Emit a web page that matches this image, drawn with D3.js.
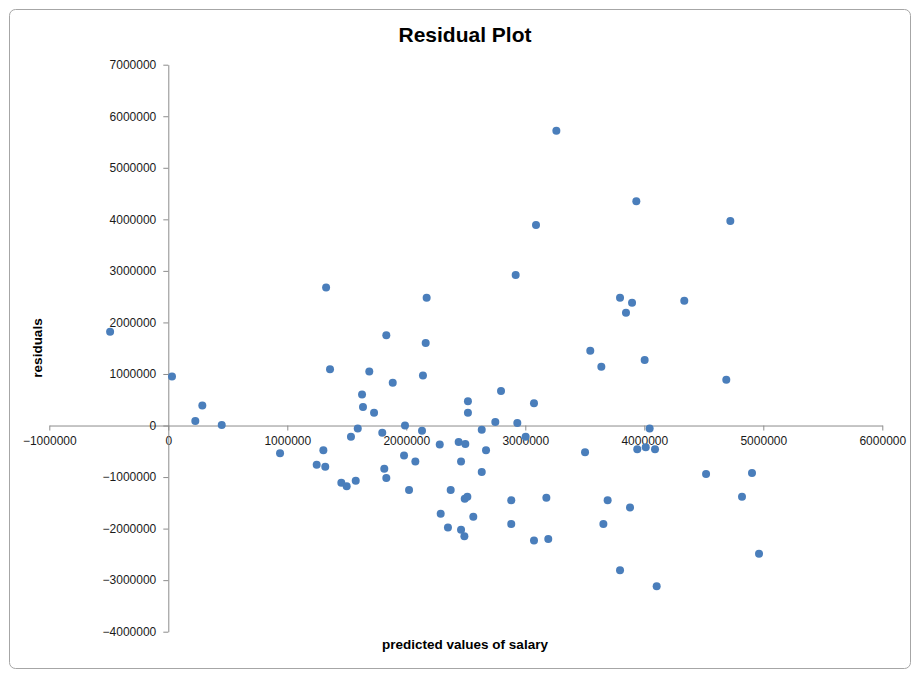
<!DOCTYPE html>
<html>
<head>
<meta charset="utf-8">
<script src="https://cdn.jsdelivr.net/npm/d3@7"></script>
<style>
  body { margin: 0; background: #fff; }
  text { font-family: "Liberation Sans", Arial, sans-serif; }
</style>
</head>
<body>
<div id="chart"></div>
<script>
// predicted values (x) and residuals (y)
var predicted = [
  -489000, 31000, 227000, 286000, 449000,
  1326000, 2171000, 1832000, 2163000, 1359000, 1689000, 2140000, 1886000,
  1628000, 1636000, 1729000, 2518000, 2518000, 1592000, 1989000, 1535000,
  1798000, 2132000, 2281000, 2440000, 2496000, 939000, 1303000, 1247000,
  1319000, 1981000, 2076000, 2460000, 1815000, 1832000, 1454000, 1499000,
  1575000, 2023000, 2373000, 2491000, 2513000, 2289000, 2350000, 2460000, 2488000,
  2748000, 2933000, 2634000, 3003000, 2670000, 2634000, 3502000, 4045000,
  3941000, 4012000, 4090000, 2882000, 3177000, 3692000, 3880000, 2563000,
  2882000, 3656000, 3073000, 3193000, 3796000, 4104000, 3796000, 3897000,
  3846000, 3546000, 3639000, 4003000, 2796000, 3073000, 3261000, 3933000,
  3090000, 2919000, 4723000, 4336000, 4689000, 4519000, 4905000, 4821000, 4964000
];
var residuals = [
  1820000, 950000, 90000, 390000, 10000,
  2680000, 2480000, 1750000, 1600000, 1090000, 1050000, 970000, 830000,
  600000, 360000, 250000, 470000, 250000, -60000, 0, -220000,
  -140000, -100000, -370000, -320000, -360000, -540000, -480000, -760000,
  -800000, -580000, -700000, -700000, -840000, -1020000, -1110000, -1180000,
  -1070000, -1250000, -1250000, -1420000, -1380000, -1710000, -1980000, -2020000, -2150000,
  70000, 50000, -80000, -220000, -480000, -900000, -520000, -60000,
  -460000, -420000, -460000, -1450000, -1400000, -1450000, -1590000, -1770000,
  -1910000, -1910000, -2230000, -2200000, -2810000, -3120000, 2480000, 2380000,
  2190000, 1450000, 1140000, 1270000, 670000, 430000, 5720000, 4350000,
  3890000, 2920000, 3970000, 2420000, 890000, -940000, -920000, -1380000, -2490000
];
var xTicks = [-1000000, 0, 1000000, 2000000, 3000000, 4000000, 5000000, 6000000];
var yTicks = [-4000000, -3000000, -2000000, -1000000, 0, 1000000, 2000000, 3000000,
              4000000, 5000000, 6000000, 7000000];

var width = 912, height = 673;

var svg = d3.select("#chart")
  .append("svg")
  .attr("width", width)
  .attr("height", height);

// chart frame
svg.append("rect")
  .attr("x", 9.5).attr("y", 9.5)
  .attr("width", 901).attr("height", 659)
  .attr("rx", 6)
  .attr("fill", "#fff")
  .attr("stroke", "#a6a6a6");

var x = d3.scaleLinear()
  .domain([-1000000, 6000000])
  .range([49.3, 882.3]);

var y = d3.scaleLinear()
  .domain([-4000000, 7000000])
  .range([631.7, 64.7]);

// x axis crosses at y = 0
var xAxis = svg.append("g")
  .attr("transform", "translate(0," + y(0) + ")")
  .call(d3.axisBottom(x).tickValues(xTicks).tickFormat(d3.format("d"))
    .tickSizeInner(5).tickSizeOuter(0).tickPadding(6));

// y axis crosses at x = 0
var yAxis = svg.append("g")
  .attr("transform", "translate(" + x(0) + ",0)")
  .call(d3.axisLeft(y).tickValues(yTicks).tickFormat(d3.format("d"))
    .tickSizeInner(5).tickSizeOuter(0).tickPadding(7));

svg.selectAll(".domain, .tick line").attr("stroke", "#8c8c8c");
svg.selectAll(".tick text")
  .attr("fill", "#1a1a1a")
  .style("font-size", "12px");

// points
svg.selectAll("circle.pt")
  .data(predicted)
  .enter()
  .append("circle")
  .attr("class", "pt")
  .attr("cx", function(d) { return x(d); })
  .attr("cy", function(d, i) { return y(residuals[i]); })
  .attr("r", 4)
  .attr("fill", "#4a7ebb");

// title and axis titles
svg.append("text")
  .attr("x", 465).attr("y", 42)
  .attr("text-anchor", "middle")
  .style("font-size", "21px")
  .style("font-weight", "bold")
  .text("Residual Plot");

svg.append("text")
  .attr("x", 465).attr("y", 649)
  .attr("text-anchor", "middle")
  .style("font-size", "13.5px")
  .style("font-weight", "bold")
  .text("predicted values of salary");

svg.append("text")
  .attr("transform", "translate(42,348) rotate(-90)")
  .attr("text-anchor", "middle")
  .style("font-size", "13.5px")
  .style("font-weight", "bold")
  .text("residuals");
</script>
</body>
</html>
